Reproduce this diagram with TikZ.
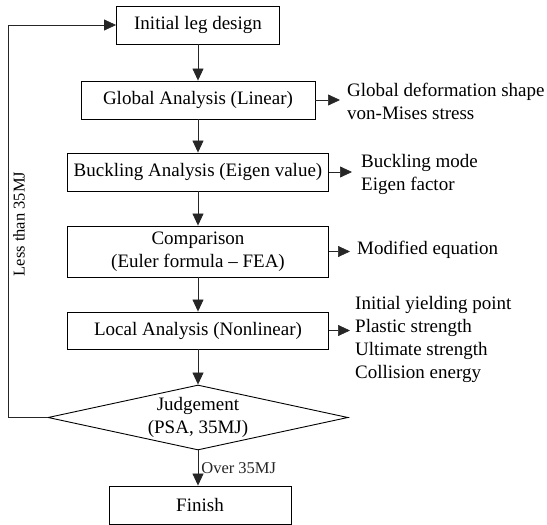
\documentclass[tikz,border=0pt]{standalone}
\usepackage{fontspec}
\setmainfont{Liberation Serif}
\usetikzlibrary{arrows.meta}
\usetikzlibrary{shapes.geometric}
\usetikzlibrary{calc}

\begin{document}
\begin{tikzpicture}[x=1pt,y=-1pt]
		  \tikzset{
			stepbox/.style={draw,line width=0.9pt,minimum height=38pt,inner sep=0pt,
			  align=center,font=\fontsize{19}{23}\selectfont},
			outtxt/.style={anchor=west,inner xsep=7pt,inner ysep=0pt,align=left,
			  font=\fontsize{19}{23}\selectfont},
			smalltxt/.style={inner sep=0pt,font=\fontsize{16.5}{20}\selectfont},
			arr/.style={-{Triangle[length=12pt,width=11pt]},line width=0.7pt,black!85},
		  }
		  \useasboundingbox (0,0) rectangle (547,525);
		  %BOXES
		  \node[stepbox,minimum width=163pt] (init) at (198,25) {Initial leg design};
		  \node[stepbox,minimum width=234pt] (glob) at (198,100) {Global Analysis (Linear)};
		  \node[stepbox,minimum width=261pt] (buck) at (198,172) {Buckling Analysis (Eigen value)};
		  \node[stepbox,minimum width=261pt,minimum height=51pt] (comp) at (198,251.5)
			{Comparison\\(Euler formula -- FEA)};
		  \node[stepbox,minimum width=261pt,minimum height=37pt] (loc) at (198,330.5) {Local Analysis (Nonlinear)};
		  %DIAMOND
		  \node[stepbox,diamond,aspect=4.6,minimum width=300pt,minimum height=65pt] (judge) at (198,417.5)
			{Judgement\\(PSA, 35MJ)};
		  \node[stepbox,minimum width=182pt] (fin) at (200,505) {Finish};
		  %OUTPUTS
		  \node[outtxt] (globout) at (340,101) {Global deformation shape\\von-Mises stress};
		  \node[outtxt,inner xsep=9pt] (buckout) at (352,174) {Buckling mode\\Eigen factor};
		  \node[outtxt] (compout) at (350,250) {Modified equation};
		  \node[outtxt,inner xsep=5pt] (locout) at (350,339)
			{Initial yielding point\\Plastic strength\\Ultimate strength\\Collision energy};
		  %ARROWS DOWN
		  \draw[arr] (init) -- (glob);
		  \draw[arr] (glob) -- (buck);
		  \draw[arr] (buck) -- (comp);
		  \draw[arr] (comp) -- (loc);
		  \draw[arr] (loc) -- (judge);
		  \draw[arr] (judge.south) -- (judge.south |- fin.north)
			node[smalltxt,midway,anchor=west,xshift=3pt] (over) {Over 35MJ};
		  %ARROWS RIGHT
		  \draw[arr] (glob.east) -- (glob.east -| globout.west);
		  \draw[arr] (buck.east) -- (buck.east -| buckout.west);
		  \draw[arr] (comp.east) -- (comp.east -| compout.west);
		  \draw[arr] (loc.east) -- (loc.east -| locout.west);
		  %FEEDBACK
		  \coordinate (back) at (8,417.5);
		  \draw[arr] (judge.west) -- (back) |- (init.west);
		  \node[smalltxt,rotate=90,anchor=north] (less) at (13,224) {Less than 35MJ};
\end{tikzpicture}
\end{document}
